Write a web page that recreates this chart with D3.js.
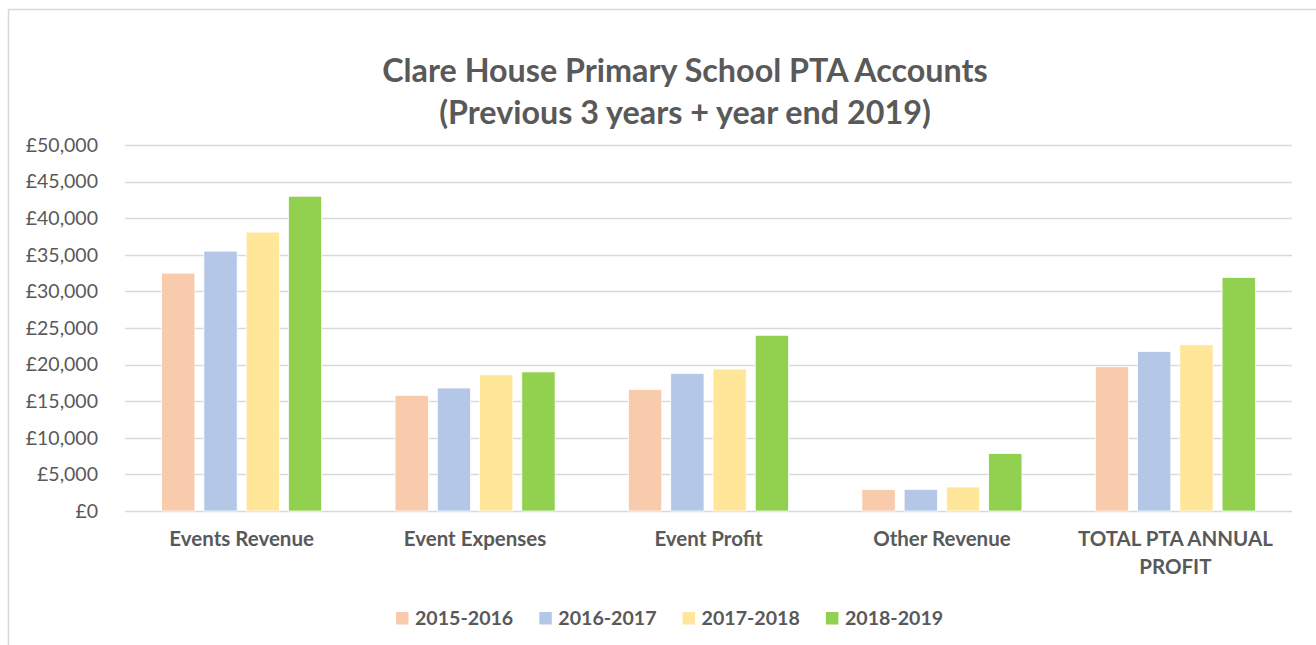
<!DOCTYPE html>
<html>
<head>
<meta charset="utf-8">
<script src="https://d3js.org/d3.v7.min.js"></script>
<style>
  body { margin: 0; background: #fff; }
  .tick-label { font-family: Lato, "Open Sans", sans-serif; font-size: 19.5px; fill: #595959; }
  .cat-label { font-family: Lato, "Open Sans", sans-serif; font-size: 20.5px; font-weight: bold; fill: #595959; }
  .title { font-family: Lato, "Open Sans", sans-serif; font-size: 32.3px; font-weight: bold; fill: #595959; }
  .legend-label { font-family: Lato, "Open Sans", sans-serif; font-size: 19.6px; font-weight: bold; fill: #595959; }
</style>
</head>
<body>
<div id="chart"></div>
<script>
// data
const categories = ["Events Revenue", "Event Expenses", "Event Profit", "Other Revenue", "TOTAL PTA ANNUAL PROFIT"];
const seriesNames = ["2015-2016", "2016-2017", "2017-2018", "2018-2019"];
const values2015 = [32500, 15800, 16600, 2950, 19700];
const values2016 = [35500, 16800, 18800, 2950, 21800];
const values2017 = [38100, 18600, 19400, 3280, 22700];
const values2018 = [43000, 19000, 24000, 7850, 31900];
const colors = ["#f8cbad", "#b4c7e7", "#ffe699", "#92d050"];
const yTicks = [0, 5000, 10000, 15000, 20000, 25000, 30000, 35000, 40000, 45000, 50000];

const allValues = [values2015, values2016, values2017, values2018];
const width = 1316, height = 645;
const plot = { left: 125, right: 1292, top: 145, bottom: 511 };

const svg = d3.select("#chart").append("svg")
  .attr("width", width)
  .attr("height", height);

// chart area border (only top and left visible in the crop)
svg.append("path")
  .attr("d", `M8.5,${height} V9.5 H${width}`)
  .attr("fill", "none")
  .attr("stroke", "#d9d9d9")
  .attr("stroke-width", 1.5);

// title
svg.append("text").attr("class", "title")
  .attr("x", 685).attr("y", 82).attr("text-anchor", "middle")
  .text("Clare House Primary School PTA Accounts");
svg.append("text").attr("class", "title")
  .attr("x", 685).attr("y", 124).attr("text-anchor", "middle")
  .text("(Previous 3 years + year end 2019)");

const y = d3.scaleLinear().domain([0, 50000]).range([plot.bottom, plot.top]);

const x0 = d3.scaleBand()
  .domain(categories)
  .range([plot.left, plot.right])
  .paddingInner(0.3145)
  .paddingOuter(0.157);

const x1 = d3.scaleBand()
  .domain(seriesNames)
  .range([0, x0.bandwidth()])
  .paddingInner(0.2126)
  .paddingOuter(0);

// gridlines
svg.append("g")
  .selectAll("line")
  .data(yTicks)
  .join("line")
  .attr("x1", plot.left)
  .attr("x2", plot.right)
  .attr("y1", d => Math.round(y(d)) + 0.5)
  .attr("y2", d => Math.round(y(d)) + 0.5)
  .attr("stroke", "#d9d9d9")
  .attr("stroke-width", 1.5);

// y axis labels
const fmt = d => "£" + d3.format(",")(d);
svg.append("g")
  .selectAll("text")
  .data(yTicks)
  .join("text")
  .attr("class", "tick-label")
  .attr("x", 98)
  .attr("y", d => y(d))
  .attr("dy", "0.35em")
  .attr("text-anchor", "end")
  .text(fmt);

// bars
const groups = svg.append("g")
  .selectAll("g")
  .data(seriesNames)
  .join("g")
  .attr("fill", (d, i) => colors[i]);

groups.selectAll("rect")
  .data((s, si) => categories.map((c, ci) => ({ cat: c, series: s, value: allValues[si][ci] })))
  .join("rect")
  .attr("x", d => x0(d.cat) + x1(d.series))
  .attr("y", d => y(d.value))
  .attr("width", x1.bandwidth())
  .attr("height", d => y(0) - y(d.value))
  .attr("stroke", "#fff")
  .attr("stroke-width", 0.75);

// category labels (wrap the long one)
const catLabels = svg.append("g")
  .selectAll("text")
  .data(categories)
  .join("text")
  .attr("class", "cat-label")
  .attr("text-anchor", "middle")
  .attr("x", d => x0(d) + x0.bandwidth() / 2)
  .attr("y", 546);

catLabels.each(function (d) {
  const t = d3.select(this);
  const lines = d === "TOTAL PTA ANNUAL PROFIT" ? ["TOTAL PTA ANNUAL", "PROFIT"] : [d];
  lines.forEach((line, i) => {
    t.append("tspan")
      .attr("x", x0(d) + x0.bandwidth() / 2)
      .attr("dy", i === 0 ? 0 : 28)
      .text(line);
  });
});

// legend
const legend = svg.append("g")
  .selectAll("g")
  .data(seriesNames)
  .join("g")
  .attr("transform", (d, i) => `translate(${396 + i * 143.3},0)`);

legend.append("rect")
  .attr("x", 0).attr("y", 612)
  .attr("width", 12.5).attr("height", 12.5)
  .attr("fill", (d, i) => colors[i]);

legend.append("text")
  .attr("class", "legend-label")
  .attr("x", 19).attr("y", 625)
  .text(d => d);
</script>
</body>
</html>
